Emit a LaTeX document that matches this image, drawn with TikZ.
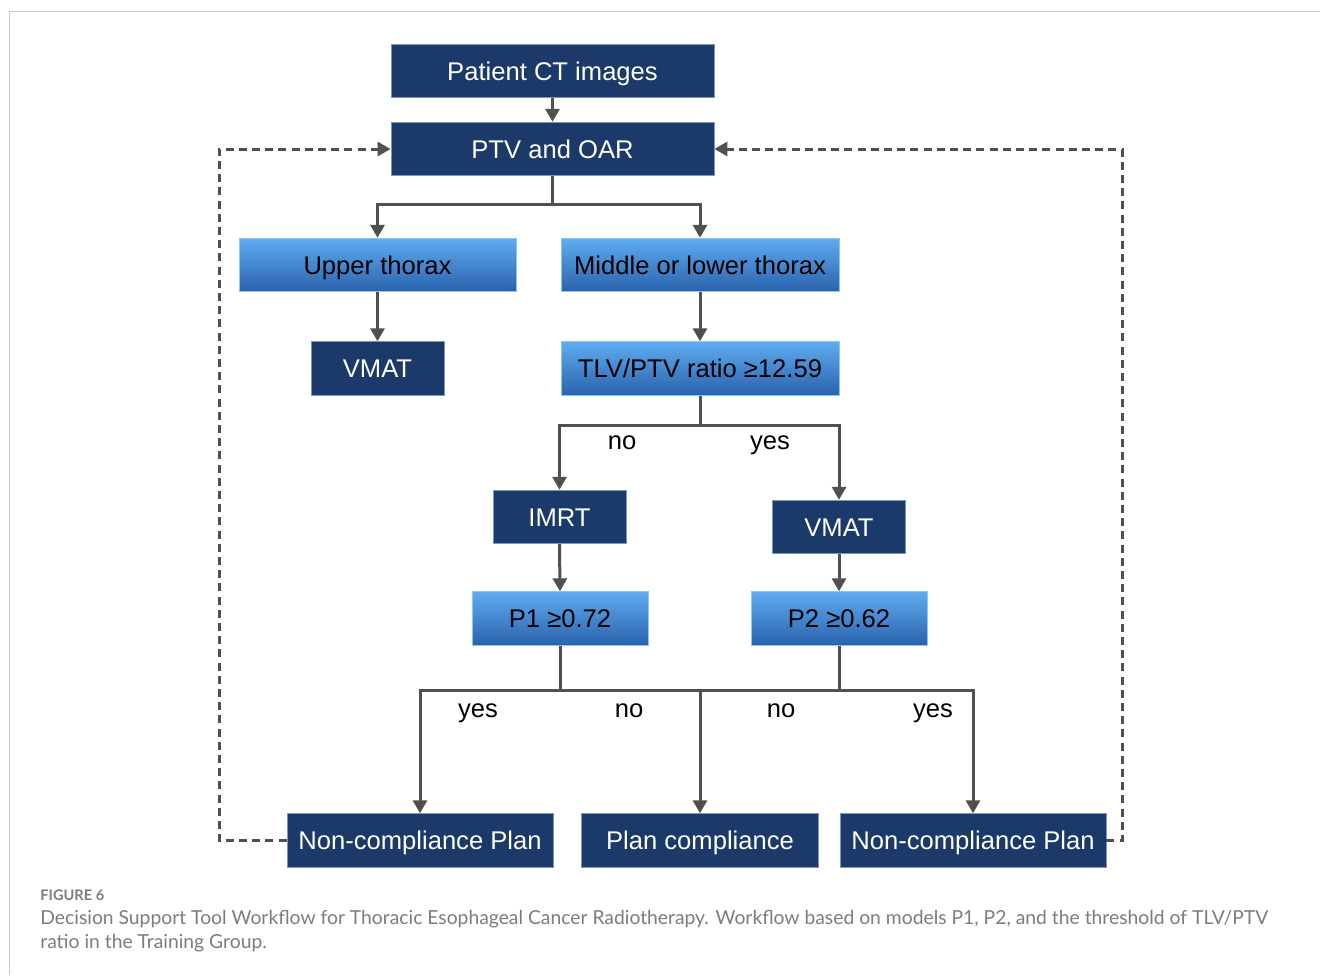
\documentclass[tikz,border=0pt]{standalone}
\usepackage{fontspec}
\setmainfont{Liberation Sans}
\newfontfamily\capfont{Lato}
\usetikzlibrary{arrows.meta}
\definecolor{navy}{RGB}{27,58,105}
\definecolor{navyedge}{RGB}{120,150,190}
\definecolor{ltop}{RGB}{95,172,240}
\definecolor{lbot}{RGB}{42,98,172}
\definecolor{lnk}{RGB}{80,80,80}
\definecolor{frame}{RGB}{200,200,200}
\definecolor{captxt}{RGB}{125,125,125}
\tikzset{
  darkbox/.style={draw=navyedge, line width=0.4pt, fill=navy, text=white, inner sep=0pt,
    font=\fontsize{12.8}{15}\selectfont, minimum height=26.8pt, text height=9.2pt, text depth=0pt},
  bluebox/.style={draw=ltop!70!white, line width=0.4pt, top color=ltop, bottom color=lbot, text=black, inner sep=0pt,
    font=\fontsize{12.8}{15}\selectfont, minimum height=26.8pt, text height=9.2pt, text depth=0pt},
  conn/.style={draw=lnk, line width=1.5pt},
  arr/.style={conn, -{Triangle[length=6.5pt,width=7pt]}},
  fb/.style={draw=lnk, line width=1.5pt, dash pattern=on 4pt off 2.6pt, -{Triangle[length=6.5pt,width=7pt]}},
  lbl/.style={inner sep=0pt, anchor=base, text=black, font=\fontsize{12.8}{15}\selectfont},
}
\begin{document}
\begin{tikzpicture}[x=0.5pt,y=-0.5pt]
\useasboundingbox (0,0) rectangle (1320,975);
\fill[white] (0,0) rectangle (1320,975);
\draw[frame, line width=0.6pt] (9.5,975) -- (9.5,11.5) -- (1320,11.5);

% nodes
\node[darkbox, minimum width=161.5pt] (ct) at (552.5,71) {Patient CT images};
\node[darkbox, minimum width=161.5pt] (ptv) at (552.5,149) {PTV and OAR};
\node[bluebox, minimum width=138.5pt] (upper) at (377.5,265) {Upper thorax};
\node[bluebox, minimum width=139pt] (middle) at (700,265) {Middle or lower thorax};
\node[darkbox, minimum width=66.5pt] (vmatl) at (377.5,368.5) {VMAT};
\node[bluebox, minimum width=139pt] (tlv) at (700,368.5) {TLV/PTV ratio ≥12.59};
\node[darkbox, minimum width=66.5pt] (imrt) at (559.5,517) {IMRT};
\node[darkbox, minimum width=66.5pt] (vmatr) at (839,527) {VMAT};
\node[bluebox, minimum width=88pt] (p1) at (560,618.5) {P1 ≥0.72};
\node[bluebox, minimum width=88pt] (p2) at (839,618.5) {P2 ≥0.62};
\node[darkbox, minimum width=133pt] (ncl) at (420,840.5) {Non-compliance Plan};
\node[darkbox, minimum width=118.5pt] (pc) at (700,840.5) {Plan compliance};
\node[darkbox, minimum width=133pt] (ncr) at (973,840.5) {Non-compliance Plan};

% branch points
\coordinate (b1) at (552.5,204);
\coordinate (b2) at (700,425);
\coordinate (b3) at (560,690);
\coordinate (b4) at (839,690);
\coordinate (b5) at (700,690);

% connectors
\draw[arr] (ct) -- (ptv);
\draw[conn] (ptv.south) -- (b1);
\draw[arr] (b1) -| (upper.north);
\draw[arr] (b1) -| (middle.north);
\draw[arr] (upper) -- (vmatl);
\draw[arr] (middle) -- (tlv);
\draw[conn] (tlv.south) -- (b2);
\draw[arr] (b2) -| (imrt.north);
\draw[arr] (b2) -| (vmatr.north);
\draw[arr] (imrt.south) -- (p1.north);
\draw[arr] (vmatr) -- (p2);
\draw[conn] (p1.south) -- (b3);
\draw[conn] (p2.south) -- (b4);
\draw[arr] (b3) -| (ncl.north);
\draw[arr] (b4) -| (ncr.north);
\draw[conn] (b3) -- (b4);
\draw[arr] (b5) -- (pc.north);

% feedback
\coordinate (fl) at (219,840.5);
\coordinate (fr) at (1122,840.5);
\draw[fb] (ncl.west) -- (fl) |- (ptv.west);
\draw[fb] (ncr.east) -- (fr) |- (ptv.east);

% labels
\node[lbl] (n1) at (622,449) {no};
\node[lbl] (y1) at (770,449) {yes};
\node[lbl] (y2) at (478,717) {yes};
\node[lbl] (n2) at (629,717) {no};
\node[lbl] (n3) at (781,717) {no};
\node[lbl] (y3) at (933,717) {yes};

% caption
\node[anchor=base west, inner sep=0pt, text=captxt, font=\capfont\bfseries\fontsize{7.3}{8}\selectfont] (fig) at (40,900) {FIGURE 6};
\node[anchor=base west, inner sep=0pt, text=captxt, font=\capfont\fontsize{9.65}{12}\selectfont] (cap1) at (40,924) {Decision Support Tool Workflow for Thoracic Esophageal Cancer Radiotherapy. Workflow based on models P1, P2, and the threshold of TLV/PTV};
\node[anchor=base west, inner sep=0pt, text=captxt, font=\capfont\fontsize{9.65}{12}\selectfont] (cap2) at (40,948) {ratio in the Training Group.};
\end{tikzpicture}
\end{document}
